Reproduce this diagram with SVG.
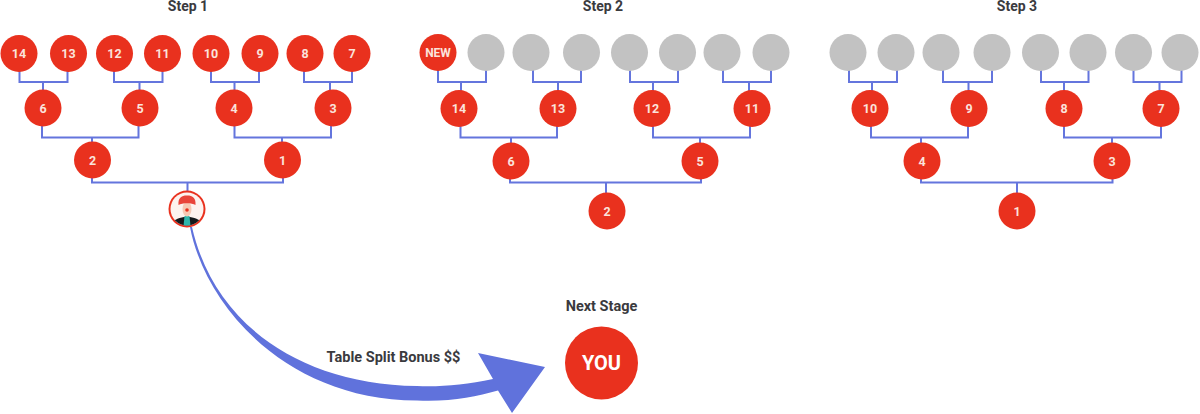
<svg xmlns="http://www.w3.org/2000/svg" width="1200" height="414" viewBox="0 0 1200 414">
<style>
.r{fill:#e9311e}
.g{fill:#c2c2c2}
.n{font:700 12.500px Roboto,"Liberation Sans",sans-serif;fill:#fbe3dc;text-anchor:middle}
.t{font:700 14.500px Roboto,"Liberation Sans",sans-serif;fill:#3a3a3e;text-anchor:middle}
.c{fill:none;stroke:#6475dd;stroke-width:2}
</style>
<defs>
<circle id="s" r="18.5"/>
<clipPath id="av"><circle cx="187" cy="209" r="16.5"/></clipPath>
</defs>
<rect width="1200" height="414" fill="#fff"/>
<g id="titles">
<text class="t" x="188" y="11" style="font-size:14px">Step 1</text>
<text class="t" x="603" y="11" style="font-size:14px">Step 2</text>
<text class="t" x="1017" y="11" style="font-size:14px">Step 3</text>
<text class="t" x="601.500" y="310.500">Next Stage</text>
<text class="t" x="393.500" y="362">Table Split Bonus $$</text>
</g>
<g id="connectors">
<path class="c" d="M19.500 70V82H67.500V70M43 82V91M114 70V82H162.500V70M139.500 82V91M211 70V82H259V70M234.500 82V91M304 70V82H352V70M330 82V91"/>
<path class="c" d="M42 125V137.500H138.500V125M92 137.500V143M234.500 125V137.500H331V125M282 137.500V143"/>
<path class="c" d="M92 176V182.500H283V176M187.500 182.500V192"/>
<path class="c" d="M438 70V82H486V70M461 82V91M533 70V82H581V70M558 82V91M630 70V82H678V70M653 82V91M723 70V82H771V70M749 82V91"/>
<path class="c" d="M460.500 125V137.500H557V125M511 137.500V143M653 125V137.500H750V125M700 137.500V143"/>
<path class="c" d="M510 176V182.500H701V176M606 182.500V193"/>
<path class="c" d="M849 70V82H897V70M872 82V91M943 70V82H992V70M968.500 82V91M1041 70V82H1088.500V70M1064 82V91M1133.500 70V82H1181.500V70M1159.500 82V91"/>
<path class="c" d="M871 125V137.500H968V125M921 137.500V143M1064 125V137.500H1161V125M1112 137.500V143"/>
<path class="c" d="M921 176V182.500H1112.500V176M1017 182.500V193"/>
<path id="bonus-arrow" fill="#6072dc" d="M190 227C205 305 285 400 417 400.500C450 402 475 397 498 390.500L512 413L545 367L478 353L493 379C465 385 440 387 417 386C295 384 213 320 192 227Z"/>
</g>
<g id="step1">
<g id="s1-14"><use href="#s" class="r" x="19" y="53.500"/><text class="n" x="19" y="58">14</text></g>
<g id="s1-13"><use href="#s" class="r" x="68.500" y="53.500"/><text class="n" x="68.500" y="58">13</text></g>
<g id="s1-12"><use href="#s" class="r" x="114.500" y="53.500"/><text class="n" x="114.500" y="58">12</text></g>
<g id="s1-11"><use href="#s" class="r" x="162.500" y="53.500"/><text class="n" x="162.500" y="58">11</text></g>
<g id="s1-10"><use href="#s" class="r" x="211" y="53.500"/><text class="n" x="211" y="58">10</text></g>
<g id="s1-9"><use href="#s" class="r" x="260" y="53.500"/><text class="n" x="260" y="58">9</text></g>
<g id="s1-8"><use href="#s" class="r" x="305" y="53.500"/><text class="n" x="305" y="58">8</text></g>
<g id="s1-7"><use href="#s" class="r" x="352" y="53.500"/><text class="n" x="352" y="58">7</text></g>
<g id="s1-6"><use href="#s" class="r" x="43" y="108"/><text class="n" x="43" y="113">6</text></g>
<g id="s1-5"><use href="#s" class="r" x="140" y="108"/><text class="n" x="140" y="113">5</text></g>
<g id="s1-4"><use href="#s" class="r" x="234" y="108"/><text class="n" x="234" y="113">4</text></g>
<g id="s1-3"><use href="#s" class="r" x="333" y="108"/><text class="n" x="333" y="113">3</text></g>
<g id="s1-2"><use href="#s" class="r" x="92.500" y="160"/><text class="n" x="92.500" y="165">2</text></g>
<g id="s1-1"><use href="#s" class="r" x="282.500" y="160"/><text class="n" x="282.500" y="165">1</text></g>
<g id="s1-avatar">
<circle cx="187" cy="209" r="18.500" class="r"/>
<circle cx="187" cy="209" r="16.500" fill="#fdf3ef"/>
<g clip-path="url(#av)">
<path d="M171 226C172 220 178 218 184 217H190C196 218 202 220 203 226Z" fill="#15191c"/>
<path d="M184.500 216H189.500L190.500 226H183.500Z" fill="#2fb6ac"/>
<ellipse cx="187" cy="209" rx="4.500" ry="7.500" fill="#f6c9b4"/>
<circle cx="187" cy="210" r="1.800" fill="#e9311e"/>
<path d="M178.500 205C178 198 181 195.500 187 195.500C193 195.500 196 198 195.500 205C192 202.500 182 202.500 178.500 205Z" fill="#e9453a"/>
</g>
</g>
</g>
<g id="step2">
<g id="s2-new"><use href="#s" class="r" x="438" y="52.500"/><text class="n" x="438" y="57" style="font-size:12px">NEW</text></g>
<g id="s2-a"><use href="#s" class="g" x="486" y="52.500"/></g>
<g id="s2-b"><use href="#s" class="g" x="531" y="52.500"/></g>
<g id="s2-c"><use href="#s" class="g" x="581.500" y="52.500"/></g>
<g id="s2-d"><use href="#s" class="g" x="629.500" y="52.500"/></g>
<g id="s2-e"><use href="#s" class="g" x="677.500" y="52.500"/></g>
<g id="s2-f"><use href="#s" class="g" x="722" y="52.500"/></g>
<g id="s2-h"><use href="#s" class="g" x="771" y="52.500"/></g>
<g id="s2-14"><use href="#s" class="r" x="459" y="108.500"/><text class="n" x="459" y="113">14</text></g>
<g id="s2-13"><use href="#s" class="r" x="558" y="108.500"/><text class="n" x="558" y="113">13</text></g>
<g id="s2-12"><use href="#s" class="r" x="652" y="108.500"/><text class="n" x="652" y="113">12</text></g>
<g id="s2-11"><use href="#s" class="r" x="752" y="108.500"/><text class="n" x="752" y="113">11</text></g>
<g id="s2-6"><use href="#s" class="r" x="511" y="161"/><text class="n" x="511" y="165.500">6</text></g>
<g id="s2-5"><use href="#s" class="r" x="700" y="161"/><text class="n" x="700" y="165.500">5</text></g>
<g id="s2-2"><use href="#s" class="r" x="607" y="211"/><text class="n" x="607" y="215.500">2</text></g>
</g>
<g id="step3">
<g id="s3-a"><use href="#s" class="g" x="848" y="52.500"/></g>
<g id="s3-b"><use href="#s" class="g" x="896" y="52.500"/></g>
<g id="s3-c"><use href="#s" class="g" x="941" y="52.500"/></g>
<g id="s3-d"><use href="#s" class="g" x="992" y="52.500"/></g>
<g id="s3-e"><use href="#s" class="g" x="1040.500" y="52.500"/></g>
<g id="s3-f"><use href="#s" class="g" x="1088" y="52.500"/></g>
<g id="s3-h"><use href="#s" class="g" x="1133.500" y="52.500"/></g>
<g id="s3-i"><use href="#s" class="g" x="1180" y="52.500"/></g>
<g id="s3-10"><use href="#s" class="r" x="870" y="108.500"/><text class="n" x="870" y="113">10</text></g>
<g id="s3-9"><use href="#s" class="r" x="969" y="108.500"/><text class="n" x="969" y="113">9</text></g>
<g id="s3-8"><use href="#s" class="r" x="1064" y="108.500"/><text class="n" x="1064" y="113">8</text></g>
<g id="s3-7"><use href="#s" class="r" x="1161" y="108.500"/><text class="n" x="1161" y="113">7</text></g>
<g id="s3-4"><use href="#s" class="r" x="922" y="161"/><text class="n" x="922" y="165.500">4</text></g>
<g id="s3-3"><use href="#s" class="r" x="1112" y="161"/><text class="n" x="1112" y="165.500">3</text></g>
<g id="s3-1"><use href="#s" class="r" x="1017" y="211"/><text class="n" x="1017" y="215.500">1</text></g>
</g>
<g id="you">
<circle cx="601.500" cy="363" r="36.500" class="r"/>
<text class="n" x="601.500" y="370" style="font-size:20px;fill:#fff">YOU</text>
</g>
</svg>
